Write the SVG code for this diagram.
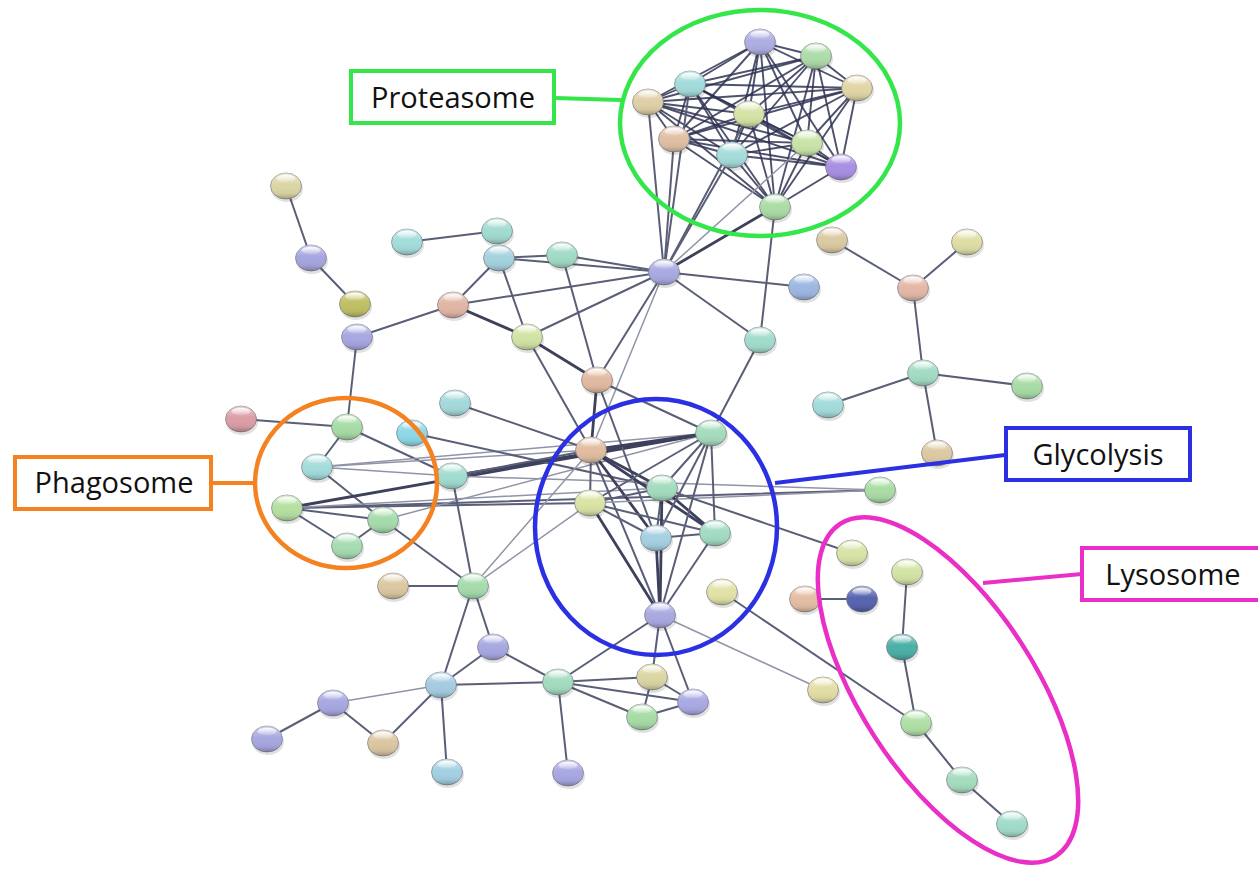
<svg xmlns="http://www.w3.org/2000/svg" xmlns:xlink="http://www.w3.org/1999/xlink" width="1258" height="869" viewBox="0 0 1258 869">
  <style>
    .e { stroke: #5a5f77; stroke-width: 2; stroke-linecap: round; }
    .t { stroke: #9094a6; stroke-width: 1.5; stroke-linecap: round; }
    .k { stroke: #3d415b; stroke-width: 2.8; stroke-linecap: round; }
    .p { stroke: #2f3453; stroke-width: 1.9; stroke-opacity: 0.85; stroke-linecap: round; }
    .ball { stroke: #74777f; stroke-width: 1; stroke-opacity: 0.65; }
    .hoop { fill: none; stroke-width: 4.5; }
    .box { fill: #ffffff; stroke-width: 4; }
    .lab { font-family: "Open Sans", "Liberation Sans", sans-serif; font-size: 29px; fill: #111111; text-anchor: middle; }
  </style>
  <defs>
    <linearGradient id="shade" x1="0" y1="0" x2="0" y2="1">
      <stop offset="0" stop-color="#ffffff" stop-opacity="0.45"/>
      <stop offset="0.45" stop-color="#ffffff" stop-opacity="0"/>
      <stop offset="0.8" stop-color="#000000" stop-opacity="0.05"/>
      <stop offset="1" stop-color="#000000" stop-opacity="0.25"/>
    </linearGradient>
    <linearGradient id="spec" x1="0" y1="0" x2="0" y2="1">
      <stop offset="0" stop-color="#ffffff" stop-opacity="0.95"/>
      <stop offset="1" stop-color="#ffffff" stop-opacity="0.1"/>
    </linearGradient>
    <!-- sphere overlay shared by every node -->
    <g id="gloss">
      <ellipse rx="15.5" ry="13" fill="url(#shade)"/>
      <ellipse cx="0" cy="-7.5" rx="9.5" ry="3.8" fill="url(#spec)"/>
    </g>
    <ellipse id="shadow" cx="1" cy="3" rx="16" ry="13" fill="#000000" fill-opacity="0.12"/>
  </defs>

  <rect width="1258" height="869" fill="#ffffff"/>

  <!-- interaction edges -->
  <g id="edges">
    <!-- proteasome core -->
    <line class="p" x1="760" y1="42" x2="816" y2="56"/>
    <line class="p" x1="760" y1="42" x2="690" y2="84"/>
    <line class="p" x1="760" y1="42" x2="857" y2="88"/>
    <line class="p" x1="760" y1="42" x2="648" y2="102"/>
    <line class="p" x1="760" y1="42" x2="749" y2="114"/>
    <line class="p" x1="760" y1="42" x2="674" y2="139"/>
    <line class="p" x1="760" y1="42" x2="807" y2="143"/>
    <line class="p" x1="760" y1="42" x2="732" y2="155"/>
    <line class="p" x1="760" y1="42" x2="841" y2="167"/>
    <line class="p" x1="760" y1="42" x2="775" y2="207"/>
    <line class="p" x1="816" y1="56" x2="690" y2="84"/>
    <line class="p" x1="816" y1="56" x2="857" y2="88"/>
    <line class="p" x1="816" y1="56" x2="648" y2="102"/>
    <line class="p" x1="816" y1="56" x2="749" y2="114"/>
    <line class="p" x1="816" y1="56" x2="674" y2="139"/>
    <line class="p" x1="816" y1="56" x2="807" y2="143"/>
    <line class="p" x1="816" y1="56" x2="732" y2="155"/>
    <line class="p" x1="816" y1="56" x2="841" y2="167"/>
    <line class="p" x1="816" y1="56" x2="775" y2="207"/>
    <line class="p" x1="690" y1="84" x2="857" y2="88"/>
    <line class="p" x1="690" y1="84" x2="648" y2="102"/>
    <line class="p" x1="690" y1="84" x2="749" y2="114"/>
    <line class="p" x1="690" y1="84" x2="674" y2="139"/>
    <line class="p" x1="690" y1="84" x2="807" y2="143"/>
    <line class="p" x1="690" y1="84" x2="732" y2="155"/>
    <line class="p" x1="690" y1="84" x2="841" y2="167"/>
    <line class="p" x1="690" y1="84" x2="775" y2="207"/>
    <line class="p" x1="857" y1="88" x2="648" y2="102"/>
    <line class="p" x1="857" y1="88" x2="749" y2="114"/>
    <line class="p" x1="857" y1="88" x2="674" y2="139"/>
    <line class="p" x1="857" y1="88" x2="807" y2="143"/>
    <line class="p" x1="857" y1="88" x2="732" y2="155"/>
    <line class="p" x1="857" y1="88" x2="841" y2="167"/>
    <line class="p" x1="857" y1="88" x2="775" y2="207"/>
    <line class="p" x1="648" y1="102" x2="749" y2="114"/>
    <line class="p" x1="648" y1="102" x2="674" y2="139"/>
    <line class="p" x1="648" y1="102" x2="807" y2="143"/>
    <line class="p" x1="648" y1="102" x2="732" y2="155"/>
    <line class="p" x1="648" y1="102" x2="841" y2="167"/>
    <line class="p" x1="648" y1="102" x2="775" y2="207"/>
    <line class="p" x1="749" y1="114" x2="674" y2="139"/>
    <line class="p" x1="749" y1="114" x2="807" y2="143"/>
    <line class="p" x1="749" y1="114" x2="732" y2="155"/>
    <line class="p" x1="749" y1="114" x2="841" y2="167"/>
    <line class="p" x1="749" y1="114" x2="775" y2="207"/>
    <line class="p" x1="674" y1="139" x2="807" y2="143"/>
    <line class="p" x1="674" y1="139" x2="732" y2="155"/>
    <line class="p" x1="674" y1="139" x2="841" y2="167"/>
    <line class="p" x1="674" y1="139" x2="775" y2="207"/>
    <line class="p" x1="807" y1="143" x2="732" y2="155"/>
    <line class="p" x1="807" y1="143" x2="841" y2="167"/>
    <line class="p" x1="807" y1="143" x2="775" y2="207"/>
    <line class="p" x1="732" y1="155" x2="841" y2="167"/>
    <line class="p" x1="732" y1="155" x2="775" y2="207"/>
    <line class="p" x1="841" y1="167" x2="775" y2="207"/>
    <!-- proteasome to hub -->
    <line class="e" x1="664" y1="272" x2="648" y2="102"/>
    <line class="e" x1="664" y1="272" x2="674" y2="139"/>
    <line class="e" x1="664" y1="272" x2="690" y2="84"/>
    <line class="e" x1="664" y1="272" x2="732" y2="155"/>
    <line class="e" x1="664" y1="272" x2="749" y2="114"/>
    <line class="k" x1="664" y1="272" x2="775" y2="207"/>
    <line class="t" x1="664" y1="272" x2="807" y2="143"/>
    <line class="e" x1="760" y1="340" x2="775" y2="207"/>
    <!-- upper left chain -->
    <line class="e" x1="286" y1="186" x2="311" y2="258"/>
    <line class="e" x1="311" y1="258" x2="355" y2="304"/>
    <line class="e" x1="357" y1="337" x2="453" y2="305"/>
    <line class="e" x1="357" y1="337" x2="347" y2="427"/>
    <!-- upper middle -->
    <line class="e" x1="407" y1="242" x2="497" y2="231"/>
    <line class="e" x1="499" y1="258" x2="562" y2="255"/>
    <line class="e" x1="499" y1="258" x2="664" y2="272"/>
    <line class="e" x1="562" y1="255" x2="664" y2="272"/>
    <line class="e" x1="499" y1="258" x2="453" y2="305"/>
    <line class="e" x1="499" y1="258" x2="527" y2="337"/>
    <line class="e" x1="453" y1="305" x2="664" y2="272"/>
    <line class="k" x1="453" y1="305" x2="527" y2="337"/>
    <line class="e" x1="527" y1="337" x2="664" y2="272"/>
    <line class="k" x1="527" y1="337" x2="597" y2="380"/>
    <line class="e" x1="527" y1="337" x2="591" y2="450"/>
    <line class="e" x1="562" y1="255" x2="597" y2="380"/>
    <line class="e" x1="664" y1="272" x2="597" y2="380"/>
    <line class="t" x1="664" y1="272" x2="591" y2="450"/>
    <line class="e" x1="664" y1="272" x2="760" y2="340"/>
    <line class="e" x1="664" y1="272" x2="804" y2="287"/>
    <line class="e" x1="760" y1="340" x2="711" y2="433"/>
    <!-- right tree -->
    <line class="e" x1="832" y1="240" x2="913" y2="288"/>
    <line class="e" x1="967" y1="242" x2="913" y2="288"/>
    <line class="e" x1="913" y1="288" x2="923" y2="373"/>
    <line class="e" x1="923" y1="373" x2="828" y2="405"/>
    <line class="e" x1="923" y1="373" x2="1027" y2="386"/>
    <line class="e" x1="923" y1="373" x2="937" y2="453"/>
    <!-- phagosome area -->
    <line class="e" x1="241" y1="419" x2="347" y2="427"/>
    <line class="e" x1="347" y1="427" x2="317" y2="467"/>
    <line class="e" x1="347" y1="427" x2="452" y2="476"/>
    <line class="t" x1="317" y1="467" x2="452" y2="476"/>
    <line class="e" x1="317" y1="467" x2="383" y2="520"/>
    <line class="t" x1="317" y1="467" x2="591" y2="450"/>
    <line class="t" x1="317" y1="467" x2="711" y2="433"/>
    <line class="e" x1="287" y1="508" x2="347" y2="546"/>
    <line class="e" x1="287" y1="508" x2="383" y2="520"/>
    <line class="e" x1="383" y1="520" x2="347" y2="546"/>
    <line class="k" x1="287" y1="508" x2="711" y2="433"/>
    <line class="e" x1="287" y1="508" x2="880" y2="490"/>
    <line class="e" x1="287" y1="508" x2="590" y2="503"/>
    <line class="t" x1="287" y1="508" x2="662" y2="488"/>
    <line class="e" x1="383" y1="520" x2="473" y2="586"/>
    <line class="t" x1="383" y1="520" x2="711" y2="433"/>
    <line class="e" x1="412" y1="433" x2="662" y2="488"/>
    <line class="e" x1="455" y1="403" x2="591" y2="450"/>
    <line class="k" x1="452" y1="476" x2="711" y2="433"/>
    <line class="e" x1="452" y1="476" x2="591" y2="450"/>
    <line class="t" x1="452" y1="476" x2="880" y2="490"/>
    <line class="e" x1="452" y1="476" x2="473" y2="586"/>
    <line class="e" x1="393" y1="586" x2="473" y2="586"/>
    <line class="t" x1="473" y1="586" x2="590" y2="503"/>
    <line class="t" x1="473" y1="586" x2="591" y2="450"/>
    <!-- glycolysis core -->
    <line class="k" x1="597" y1="380" x2="591" y2="450"/>
    <line class="e" x1="597" y1="380" x2="711" y2="433"/>
    <line class="e" x1="597" y1="380" x2="656" y2="538"/>
    <line class="k" x1="591" y1="450" x2="711" y2="433"/>
    <line class="e" x1="591" y1="450" x2="590" y2="503"/>
    <line class="k" x1="591" y1="450" x2="662" y2="488"/>
    <line class="k" x1="591" y1="450" x2="656" y2="538"/>
    <line class="k" x1="591" y1="450" x2="715" y2="533"/>
    <line class="e" x1="591" y1="450" x2="660" y2="615"/>
    <line class="e" x1="590" y1="503" x2="662" y2="488"/>
    <line class="e" x1="590" y1="503" x2="656" y2="538"/>
    <line class="e" x1="590" y1="503" x2="715" y2="533"/>
    <line class="k" x1="590" y1="503" x2="660" y2="615"/>
    <line class="e" x1="590" y1="503" x2="711" y2="433"/>
    <line class="t" x1="590" y1="503" x2="880" y2="490"/>
    <line class="e" x1="662" y1="488" x2="656" y2="538"/>
    <line class="k" x1="662" y1="488" x2="715" y2="533"/>
    <line class="k" x1="662" y1="488" x2="660" y2="615"/>
    <line class="e" x1="662" y1="488" x2="711" y2="433"/>
    <line class="e" x1="656" y1="538" x2="715" y2="533"/>
    <line class="k" x1="656" y1="538" x2="660" y2="615"/>
    <line class="e" x1="656" y1="538" x2="711" y2="433"/>
    <line class="e" x1="715" y1="533" x2="660" y2="615"/>
    <line class="e" x1="715" y1="533" x2="711" y2="433"/>
    <line class="e" x1="711" y1="433" x2="660" y2="615"/>
    <line class="e" x1="662" y1="488" x2="852" y2="553"/>
    <line class="t" x1="660" y1="615" x2="823" y2="690"/>
    <!-- right and lysosome chain -->
    <line class="e" x1="722" y1="592" x2="916" y2="723"/>
    <line class="e" x1="805" y1="599" x2="862" y2="599"/>
    <line class="e" x1="907" y1="572" x2="902" y2="647"/>
    <line class="e" x1="902" y1="647" x2="916" y2="723"/>
    <line class="e" x1="916" y1="723" x2="962" y2="780"/>
    <line class="e" x1="962" y1="780" x2="1012" y2="824"/>
    <!-- lower cluster -->
    <line class="e" x1="473" y1="586" x2="493" y2="647"/>
    <line class="e" x1="473" y1="586" x2="441" y2="685"/>
    <line class="e" x1="493" y1="647" x2="441" y2="685"/>
    <line class="e" x1="493" y1="647" x2="558" y2="682"/>
    <line class="e" x1="441" y1="685" x2="558" y2="682"/>
    <line class="t" x1="441" y1="685" x2="333" y2="703"/>
    <line class="e" x1="441" y1="685" x2="383" y2="743"/>
    <line class="e" x1="441" y1="685" x2="447" y2="772"/>
    <line class="e" x1="333" y1="703" x2="267" y2="739"/>
    <line class="e" x1="333" y1="703" x2="383" y2="743"/>
    <line class="e" x1="558" y1="682" x2="568" y2="773"/>
    <line class="e" x1="558" y1="682" x2="652" y2="677"/>
    <line class="e" x1="558" y1="682" x2="642" y2="717"/>
    <line class="e" x1="558" y1="682" x2="693" y2="702"/>
    <line class="e" x1="652" y1="677" x2="642" y2="717"/>
    <line class="e" x1="652" y1="677" x2="693" y2="702"/>
    <line class="e" x1="642" y1="717" x2="693" y2="702"/>
    <line class="e" x1="660" y1="615" x2="558" y2="682"/>
    <line class="e" x1="660" y1="615" x2="652" y2="677"/>
    <line class="e" x1="660" y1="615" x2="693" y2="702"/>
  </g>

  <!-- proteins -->
  <g id="nodes">
    <g id="P1" transform="translate(760,42)"><use href="#shadow"/><ellipse class="ball" rx="15.5" ry="13" fill="#aeaee4"/><use href="#gloss"/></g>
    <g id="P2" transform="translate(816,56)"><use href="#shadow"/><ellipse class="ball" rx="15.5" ry="13" fill="#aedcaa"/><use href="#gloss"/></g>
    <g id="P3" transform="translate(690,84)"><use href="#shadow"/><ellipse class="ball" rx="15.5" ry="13" fill="#a4dcdc"/><use href="#gloss"/></g>
    <g id="P4" transform="translate(857,88)"><use href="#shadow"/><ellipse class="ball" rx="15.5" ry="13" fill="#e2d6a6"/><use href="#gloss"/></g>
    <g id="P5" transform="translate(648,102)"><use href="#shadow"/><ellipse class="ball" rx="15.5" ry="13" fill="#e0cfa6"/><use href="#gloss"/></g>
    <g id="P6" transform="translate(749,114)"><use href="#shadow"/><ellipse class="ball" rx="15.5" ry="13" fill="#d6e4a6"/><use href="#gloss"/></g>
    <g id="P7" transform="translate(674,139)"><use href="#shadow"/><ellipse class="ball" rx="15.5" ry="13" fill="#e0c0a4"/><use href="#gloss"/></g>
    <g id="P8" transform="translate(807,143)"><use href="#shadow"/><ellipse class="ball" rx="15.5" ry="13" fill="#cae4a8"/><use href="#gloss"/></g>
    <g id="P9" transform="translate(732,155)"><use href="#shadow"/><ellipse class="ball" rx="15.5" ry="13" fill="#a6dcdc"/><use href="#gloss"/></g>
    <g id="P10" transform="translate(841,167)"><use href="#shadow"/><ellipse class="ball" rx="15.5" ry="13" fill="#a890e4"/><use href="#gloss"/></g>
    <g id="P11" transform="translate(775,207)"><use href="#shadow"/><ellipse class="ball" rx="15.5" ry="13" fill="#acdca6"/><use href="#gloss"/></g>

    <g id="A1" transform="translate(286,186)"><use href="#shadow"/><ellipse class="ball" rx="15.5" ry="13" fill="#dcd6a6"/><use href="#gloss"/></g>
    <g id="A2" transform="translate(311,258)"><use href="#shadow"/><ellipse class="ball" rx="15.5" ry="13" fill="#a6a6e0"/><use href="#gloss"/></g>
    <g id="A3" transform="translate(355,304)"><use href="#shadow"/><ellipse class="ball" rx="15.5" ry="13" fill="#c0c064"/><use href="#gloss"/></g>
    <g id="A4" transform="translate(357,337)"><use href="#shadow"/><ellipse class="ball" rx="15.5" ry="13" fill="#a8a8e2"/><use href="#gloss"/></g>

    <g id="B1" transform="translate(407,242)"><use href="#shadow"/><ellipse class="ball" rx="15.5" ry="13" fill="#a4dcdc"/><use href="#gloss"/></g>
    <g id="B2" transform="translate(497,231)"><use href="#shadow"/><ellipse class="ball" rx="15.5" ry="13" fill="#a2dcd0"/><use href="#gloss"/></g>
    <g id="B3" transform="translate(499,258)"><use href="#shadow"/><ellipse class="ball" rx="15.5" ry="13" fill="#a6d2e0"/><use href="#gloss"/></g>
    <g id="B4" transform="translate(562,255)"><use href="#shadow"/><ellipse class="ball" rx="15.5" ry="13" fill="#a2dcc6"/><use href="#gloss"/></g>
    <g id="B5" transform="translate(453,305)"><use href="#shadow"/><ellipse class="ball" rx="15.5" ry="13" fill="#e2b6a6"/><use href="#gloss"/></g>
    <g id="B6" transform="translate(527,337)"><use href="#shadow"/><ellipse class="ball" rx="15.5" ry="13" fill="#d2e4a4"/><use href="#gloss"/></g>
    <g id="B7" transform="translate(597,380)"><use href="#shadow"/><ellipse class="ball" rx="15.5" ry="13" fill="#e2baa2"/><use href="#gloss"/></g>
    <g id="HUB" transform="translate(664,272)"><use href="#shadow"/><ellipse class="ball" rx="15.5" ry="13" fill="#aaaae4"/><use href="#gloss"/></g>
    <g id="B8" transform="translate(804,287)"><use href="#shadow"/><ellipse class="ball" rx="15.5" ry="13" fill="#9eb8e2"/><use href="#gloss"/></g>
    <g id="B9" transform="translate(760,340)"><use href="#shadow"/><ellipse class="ball" rx="15.5" ry="13" fill="#a2dccc"/><use href="#gloss"/></g>

    <g id="D1" transform="translate(832,240)"><use href="#shadow"/><ellipse class="ball" rx="15.5" ry="13" fill="#dccaa2"/><use href="#gloss"/></g>
    <g id="D2" transform="translate(967,242)"><use href="#shadow"/><ellipse class="ball" rx="15.5" ry="13" fill="#e0dea6"/><use href="#gloss"/></g>
    <g id="D3" transform="translate(913,288)"><use href="#shadow"/><ellipse class="ball" rx="15.5" ry="13" fill="#e4b8a8"/><use href="#gloss"/></g>
    <g id="D4" transform="translate(923,373)"><use href="#shadow"/><ellipse class="ball" rx="15.5" ry="13" fill="#a2dcc4"/><use href="#gloss"/></g>
    <g id="D5" transform="translate(828,405)"><use href="#shadow"/><ellipse class="ball" rx="15.5" ry="13" fill="#a4dcdc"/><use href="#gloss"/></g>
    <g id="D6" transform="translate(1027,386)"><use href="#shadow"/><ellipse class="ball" rx="15.5" ry="13" fill="#a8dca6"/><use href="#gloss"/></g>
    <g id="D7" transform="translate(937,453)"><use href="#shadow"/><ellipse class="ball" rx="15.5" ry="13" fill="#dccaa2"/><use href="#gloss"/></g>

    <g id="F0" transform="translate(241,419)"><use href="#shadow"/><ellipse class="ball" rx="15.5" ry="13" fill="#dc9ea6"/><use href="#gloss"/></g>
    <g id="F1" transform="translate(347,427)"><use href="#shadow"/><ellipse class="ball" rx="15.5" ry="13" fill="#a6dca6"/><use href="#gloss"/></g>
    <g id="F2" transform="translate(412,433)"><use href="#shadow"/><ellipse class="ball" rx="15.5" ry="13" fill="#8ed8e8"/><use href="#gloss"/></g>
    <g id="F3" transform="translate(317,467)"><use href="#shadow"/><ellipse class="ball" rx="15.5" ry="13" fill="#a4dcdc"/><use href="#gloss"/></g>
    <g id="F4" transform="translate(287,508)"><use href="#shadow"/><ellipse class="ball" rx="15.5" ry="13" fill="#b6e0a2"/><use href="#gloss"/></g>
    <g id="F5" transform="translate(383,520)"><use href="#shadow"/><ellipse class="ball" rx="15.5" ry="13" fill="#a6dcac"/><use href="#gloss"/></g>
    <g id="F6" transform="translate(347,546)"><use href="#shadow"/><ellipse class="ball" rx="15.5" ry="13" fill="#a6dcb0"/><use href="#gloss"/></g>
    <g id="X1" transform="translate(452,476)"><use href="#shadow"/><ellipse class="ball" rx="15.5" ry="13" fill="#a2dcd0"/><use href="#gloss"/></g>
    <g id="X2" transform="translate(455,403)"><use href="#shadow"/><ellipse class="ball" rx="15.5" ry="13" fill="#a4dadc"/><use href="#gloss"/></g>
    <g id="X3" transform="translate(473,586)"><use href="#shadow"/><ellipse class="ball" rx="15.5" ry="13" fill="#a6dcac"/><use href="#gloss"/></g>
    <g id="X4" transform="translate(393,586)"><use href="#shadow"/><ellipse class="ball" rx="15.5" ry="13" fill="#dcc8a2"/><use href="#gloss"/></g>

    <g id="G1" transform="translate(591,450)"><use href="#shadow"/><ellipse class="ball" rx="15.5" ry="13" fill="#e2bea2"/><use href="#gloss"/></g>
    <g id="G2" transform="translate(590,503)"><use href="#shadow"/><ellipse class="ball" rx="15.5" ry="13" fill="#dae4a6"/><use href="#gloss"/></g>
    <g id="G3" transform="translate(662,488)"><use href="#shadow"/><ellipse class="ball" rx="15.5" ry="13" fill="#a4dcbe"/><use href="#gloss"/></g>
    <g id="G4" transform="translate(656,538)"><use href="#shadow"/><ellipse class="ball" rx="15.5" ry="13" fill="#a6d0e2"/><use href="#gloss"/></g>
    <g id="G5" transform="translate(715,533)"><use href="#shadow"/><ellipse class="ball" rx="15.5" ry="13" fill="#a2dcc4"/><use href="#gloss"/></g>
    <g id="G7" transform="translate(711,433)"><use href="#shadow"/><ellipse class="ball" rx="15.5" ry="13" fill="#a6dcbe"/><use href="#gloss"/></g>
    <g id="G6" transform="translate(660,615)"><use href="#shadow"/><ellipse class="ball" rx="15.5" ry="13" fill="#aaaae2"/><use href="#gloss"/></g>

    <g id="R1" transform="translate(880,490)"><use href="#shadow"/><ellipse class="ball" rx="15.5" ry="13" fill="#aadca6"/><use href="#gloss"/></g>
    <g id="R2" transform="translate(852,553)"><use href="#shadow"/><ellipse class="ball" rx="15.5" ry="13" fill="#d6e4a6"/><use href="#gloss"/></g>
    <g id="R3" transform="translate(722,592)"><use href="#shadow"/><ellipse class="ball" rx="15.5" ry="13" fill="#e2e2a8"/><use href="#gloss"/></g>
    <g id="R4" transform="translate(805,599)"><use href="#shadow"/><ellipse class="ball" rx="15.5" ry="13" fill="#e4bea4"/><use href="#gloss"/></g>
    <g id="R5" transform="translate(862,599)"><use href="#shadow"/><ellipse class="ball" rx="15.5" ry="13" fill="#5864b0"/><use href="#gloss"/></g>
    <g id="R6" transform="translate(823,690)"><use href="#shadow"/><ellipse class="ball" rx="15.5" ry="13" fill="#e2dea6"/><use href="#gloss"/></g>

    <g id="L1" transform="translate(907,572)"><use href="#shadow"/><ellipse class="ball" rx="15.5" ry="13" fill="#d4e4a6"/><use href="#gloss"/></g>
    <g id="L2" transform="translate(902,647)"><use href="#shadow"/><ellipse class="ball" rx="15.5" ry="13" fill="#4cb0a6"/><use href="#gloss"/></g>
    <g id="L3" transform="translate(916,723)"><use href="#shadow"/><ellipse class="ball" rx="15.5" ry="13" fill="#b0e0a6"/><use href="#gloss"/></g>
    <g id="L4" transform="translate(962,780)"><use href="#shadow"/><ellipse class="ball" rx="15.5" ry="13" fill="#a6dcbe"/><use href="#gloss"/></g>
    <g id="L5" transform="translate(1012,824)"><use href="#shadow"/><ellipse class="ball" rx="15.5" ry="13" fill="#a2dccc"/><use href="#gloss"/></g>

    <g id="C1" transform="translate(493,647)"><use href="#shadow"/><ellipse class="ball" rx="15.5" ry="13" fill="#a8a8e2"/><use href="#gloss"/></g>
    <g id="C2" transform="translate(441,685)"><use href="#shadow"/><ellipse class="ball" rx="15.5" ry="13" fill="#a6cce2"/><use href="#gloss"/></g>
    <g id="C3" transform="translate(558,682)"><use href="#shadow"/><ellipse class="ball" rx="15.5" ry="13" fill="#a4dcc0"/><use href="#gloss"/></g>
    <g id="C4" transform="translate(333,703)"><use href="#shadow"/><ellipse class="ball" rx="15.5" ry="13" fill="#a8a8e2"/><use href="#gloss"/></g>
    <g id="C5" transform="translate(267,739)"><use href="#shadow"/><ellipse class="ball" rx="15.5" ry="13" fill="#a8a8e2"/><use href="#gloss"/></g>
    <g id="C6" transform="translate(383,743)"><use href="#shadow"/><ellipse class="ball" rx="15.5" ry="13" fill="#dcc6a2"/><use href="#gloss"/></g>
    <g id="C7" transform="translate(447,772)"><use href="#shadow"/><ellipse class="ball" rx="15.5" ry="13" fill="#a4d0e2"/><use href="#gloss"/></g>
    <g id="C8" transform="translate(568,773)"><use href="#shadow"/><ellipse class="ball" rx="15.5" ry="13" fill="#a8a8e2"/><use href="#gloss"/></g>
    <g id="C9" transform="translate(652,677)"><use href="#shadow"/><ellipse class="ball" rx="15.5" ry="13" fill="#dcd6a4"/><use href="#gloss"/></g>
    <g id="C10" transform="translate(642,717)"><use href="#shadow"/><ellipse class="ball" rx="15.5" ry="13" fill="#a8dca6"/><use href="#gloss"/></g>
    <g id="C11" transform="translate(693,702)"><use href="#shadow"/><ellipse class="ball" rx="15.5" ry="13" fill="#aaaae4"/><use href="#gloss"/></g>
  </g>

  <!-- pathway annotations -->
  <g id="proteasome">
    <ellipse class="hoop" cx="760" cy="123" rx="140" ry="113" stroke="#35e64b"/>
    <line x1="555" y1="98" x2="621" y2="100" stroke="#35e64b" stroke-width="4"/>
    <rect class="box" x="351" y="71" width="203" height="52" stroke="#35e64b"/>
    <text class="lab" x="453" y="108">Proteasome</text>
  </g>
  <g id="phagosome">
    <ellipse class="hoop" cx="346" cy="483" rx="91" ry="85" stroke="#f58220"/>
    <line x1="212" y1="483" x2="255" y2="483" stroke="#f58220" stroke-width="4"/>
    <rect class="box" x="15" y="457" width="196" height="52" stroke="#f58220"/>
    <text class="lab" x="114" y="493">Phagosome</text>
  </g>
  <g id="glycolysis">
    <ellipse class="hoop" cx="656" cy="527" rx="121" ry="128" stroke="#2b31e2"/>
    <line x1="775" y1="483" x2="1005" y2="455" stroke="#2b31e2" stroke-width="4"/>
    <rect class="box" x="1006" y="428" width="184" height="52" stroke="#2b31e2"/>
    <text class="lab" x="1098" y="465">Glycolysis</text>
  </g>
  <g id="lysosome">
    <ellipse class="hoop" cx="948" cy="690" rx="198" ry="87" transform="rotate(57 948 690)" stroke="#e92fc6"/>
    <line x1="983" y1="583" x2="1082" y2="574" stroke="#e92fc6" stroke-width="4"/>
    <rect class="box" x="1082" y="548" width="182" height="52" stroke="#e92fc6"/>
    <text class="lab" x="1173" y="585">Lysosome</text>
  </g>
</svg>
